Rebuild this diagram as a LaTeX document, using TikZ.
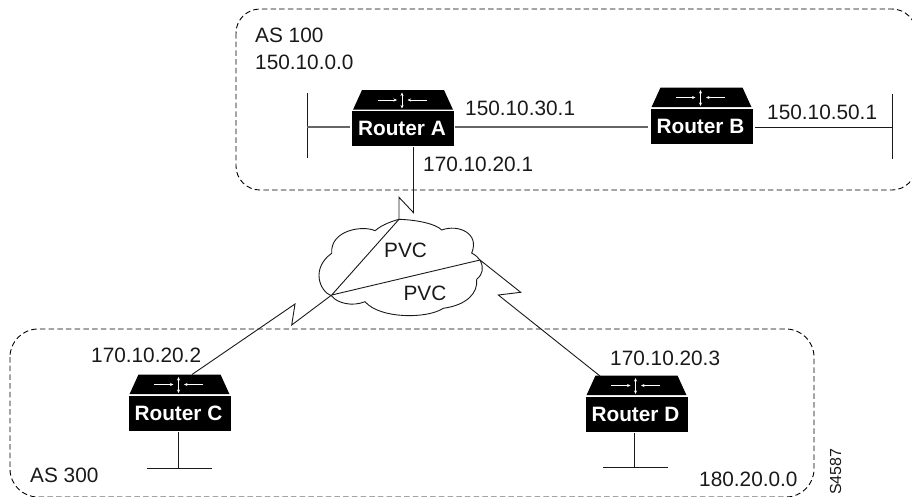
\documentclass[tikz,border=0pt]{standalone}
\usepackage{fontspec}
\setmainfont{Liberation Sans}
\usetikzlibrary{arrows.meta}
\tikzset{
  x=1pt,y=-1pt,
  lbl/.style={inner sep=0pt,anchor=base west,font=\fontsize{20.8}{23}\selectfont,text=black!90},
  rbox/.style={fill=black,text=white,inner sep=0pt,minimum width=102pt,text height=24.6pt,text depth=10.4pt,font=\fontsize{20.8}{23}\selectfont\bfseries},
  wire/.style={line width=0.9pt,black!90},
  graywire/.style={line width=1.3pt,black!60},
  zone/.style={line width=0.9pt,black,dash pattern=on 5.5pt off 3.2pt},
  tick/.style={white,line width=0.5pt},
  tip/.style={-{Stealth[length=3.5pt,width=3pt]}},
  tips/.style={{Stealth[length=3.5pt,width=3pt]}-{Stealth[length=3.5pt,width=3pt]}},
}
\newcommand{\myrouter}[4]{%
  % #1 name, #2 x left, #3 y box top, #4 letter
  \fill[black] (#2+10,#3-21) -- (#2+92,#3-21) -- (#2+101,#3-1.3) -- (#2+1,#3-1.3) -- cycle;
  \node[rbox,anchor=north west] (#1) at (#2,#3) {Router #4\kern2.5pt};
  \draw[tick,tip] (#2+25.7,#3-11) -- (#2+45,#3-11);
  \draw[tick,tip] (#2+74.5,#3-11) -- (#2+55.5,#3-11);
  \draw[tick,tips] (#2+50,#3-18.5) -- (#2+50,#3-2.5);
}
\begin{document}
\begin{tikzpicture}
\useasboundingbox (0,0) rectangle (912,496);
\begin{scope}
\clip (0,0) rectangle (912,496);
\draw[zone,rounded corners=24pt] (236,9) rectangle (916,190);
\draw[zone,rounded corners=28pt] (10,329) rectangle (814,497);
\end{scope}
\myrouter{ra}{352}{111}{A}
\myrouter{rb}{650.5}{108.5}{B}
\myrouter{rc}{128.5}{395.5}{C}
\myrouter{rd}{585.5}{396.5}{D}
\coordinate (at) at (307.3,93); \coordinate (ab) at (307.3,158); \coordinate (am) at (307.3,127);
\coordinate (bt) at (892,94); \coordinate (bb) at (892,158.5); \coordinate (bm) at (892,127);
\coordinate (ral) at (350,127); \coordinate (rar) at (454.5,127);
\coordinate (rbl) at (648,127); \coordinate (rbr) at (755,127);
\coordinate (ras) at (413.5,147);
\coordinate (cl) at (146.7,468); \coordinate (cr) at (211.7,468); \coordinate (cm) at (178.3,468);
\coordinate (dl) at (603,467.7); \coordinate (dr) at (668,467.7); \coordinate (dm) at (634,467.7);
\draw[wire] (at) -- (ab);
\draw[wire] (bt) -- (bb);
\draw[graywire] (am) -- (ral);
\draw[graywire] (rar) -- (rbl);
\draw[wire] (rbr) -- (bm);
\draw[wire] (cl) -- (cr); \draw[wire] (cm) -- ([yshift=-1pt]cm |- rc.south);
\draw[wire] (dl) -- (dr); \draw[wire] (dm) -- ([yshift=-1pt]dm |- rd.south);
% cloud
\draw[line width=0.9pt,black!90] (399,219.3)
 .. controls (418,220) and (436,224) .. (441.7,230)
 .. controls (458,224) and (480,233) .. (471.7,253)
 .. controls (475,255) and (478,257) .. (480,260)
 .. controls (484,268) and (483,274) .. (476.7,279.3)
 .. controls (478,293) and (467,305) .. (443.3,308.3)
 .. controls (427,319) and (380,319) .. (365,301.7)
 .. controls (352,307) and (337,303) .. (331.7,296)
 .. controls (319,291) and (311,268) .. (331.7,253.3)
 .. controls (330,230) and (363,225) .. (375,230.7)
 .. controls (383,224) and (393,221) .. (399,219.3) -- cycle;
\node[lbl] (pvc1) at (384,257.7) {PVC};
\node[lbl] (pvc2) at (403.3,300) {PVC};
% serial lines
\coordinate (z1) at (413.5,212.7); \coordinate (z2) at (399,197.3); \coordinate (z3) at (399,219.3);
\coordinate (hub) at (331.7,295); \coordinate (z4) at (291.7,325); \coordinate (z5) at (295,304);
\coordinate (cin) at (192,374.5);
\coordinate (e1) at (480,260); \coordinate (e2) at (520.7,292.3); \coordinate (e3) at (498.3,295);
\coordinate (din) at (600,376);
\draw[wire] (ras) -- (z1) -- (z2) -- (z3) -- (hub) -- (z4) -- (z5) -- (cin);
\draw[wire] (hub) -- (e1) -- (e2) -- (e3) -- (din);
\node[lbl] (l1) at (255,42.7) {AS 100};
\node[lbl] (l2) at (255,69) {150.10.0.0};
\node[lbl] (l3) at (465,115.7) {150.10.30.1};
\node[lbl] (l4) at (767,119) {150.10.50.1};
\node[lbl] (l5) at (423,171) {170.10.20.1};
\node[lbl] (l6) at (91,362.7) {170.10.20.2};
\node[lbl] (l7) at (610,365) {170.10.20.3};
\node[lbl] (l8) at (30,482) {AS 300};
\node[lbl] (l9) at (699,486) {180.20.0.0};
\node[inner sep=0pt,anchor=base west,rotate=90,font=\fontsize{16}{18}\selectfont,text=black!90] (s) at (841,495) {S4587};
\end{tikzpicture}
\end{document}
